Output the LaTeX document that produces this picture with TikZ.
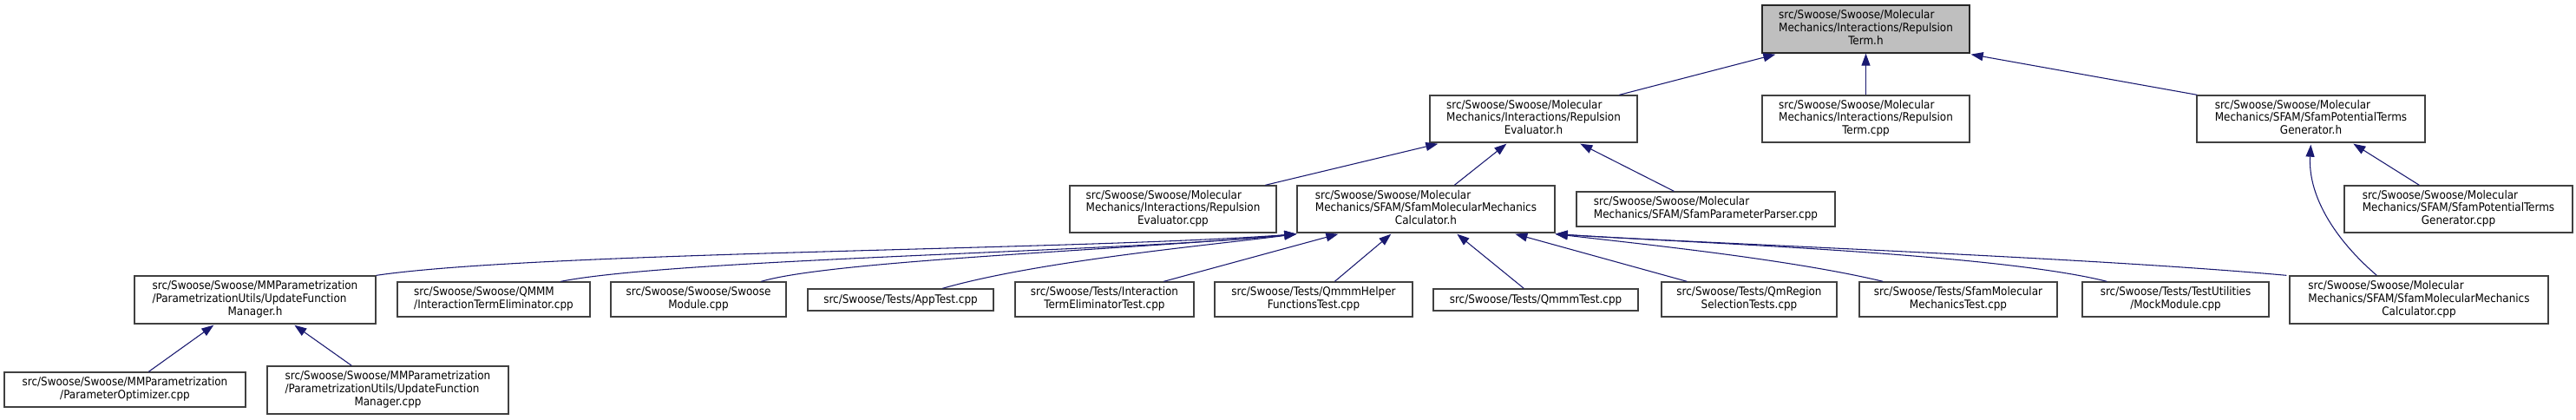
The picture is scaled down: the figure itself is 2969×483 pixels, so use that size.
\documentclass[tikz,border=0pt]{standalone}
\usepackage{fontspec}
\setmainfont{DejaVu Sans Condensed}
\usetikzlibrary{arrows.meta,calc}
\definecolor{navy}{HTML}{191970}
\definecolor{bord}{HTML}{404040}
\definecolor{topfill}{HTML}{BFBFBF}
\newcommand\TwoL[2]{\begin{tabular}{@{}l@{}}#1\\\multicolumn{1}{@{}c@{}}{#2}\end{tabular}}
\newcommand\ThreeL[3]{\begin{tabular}{@{}l@{}}#1\\#2\\\multicolumn{1}{@{}c@{}}{#3}\end{tabular}}
\newcommand\nd[7]{\node[#1,minimum width={(#5-#3)*0.75pt},minimum height={(#6-#4)*0.75pt}] (#2) at ({(#3+#5)/2},{(#4+#6)/2}) {#7};}
\tikzset{
  box/.style={draw=bord, line width=1pt, fill=white, inner sep=0pt, font=\fontsize{10}{11}\selectfont},
  topbox/.style={box, fill=topfill, draw=black!85},
  edge/.style={draw=navy, line width=0.8pt, -{Triangle[length=10.5pt,width=7.5pt]}},
}
\begin{document}
\begin{tikzpicture}[x=0.75pt,y=-0.75pt]
\fill[white] (0,0) rectangle (2969,483);
\useasboundingbox (0,0) rectangle (2969,483);
% row 0
\nd{topbox}{termh}{2031}{6}{2270}{61}{\ThreeL{src/Swoose/Swoose/Molecular}{Mechanics/Interactions/Repulsion}{Term.h}}
% row 1
\nd{box}{evalh}{1648}{110}{1887}{164}{\ThreeL{src/Swoose/Swoose/Molecular}{Mechanics/Interactions/Repulsion}{Evaluator.h}}
\nd{box}{termcpp}{2031}{110}{2270}{164}{\ThreeL{src/Swoose/Swoose/Molecular}{Mechanics/Interactions/Repulsion}{Term.cpp}}
\nd{box}{potgenh}{2532}{110}{2795}{164}{\ThreeL{src/Swoose/Swoose/Molecular}{Mechanics/SFAM/SfamPotentialTerms}{Generator.h}}
% row 2
\nd{box}{evalcpp}{1233}{214}{1471}{268}{\ThreeL{src/Swoose/Swoose/Molecular}{Mechanics/Interactions/Repulsion}{Evaluator.cpp}}
\nd{box}{calch}{1495}{214}{1792}{268}{\ThreeL{src/Swoose/Swoose/Molecular}{Mechanics/SFAM/SfamMolecularMechanics}{Calculator.h}}
\nd{box}{parser}{1817}{221}{2115}{261}{\TwoL{src/Swoose/Swoose/Molecular}{Mechanics/SFAM/SfamParameterParser.cpp}}
\nd{box}{potgencpp}{2702}{214}{2965}{268}{\ThreeL{src/Swoose/Swoose/Molecular}{Mechanics/SFAM/SfamPotentialTerms}{Generator.cpp}}
% row 3
\nd{box}{ufmh}{155}{318}{433}{373}{\ThreeL{src/Swoose/Swoose/MMParametrization}{/ParametrizationUtils/UpdateFunction}{Manager.h}}
\nd{box}{itecpp}{458}{325}{680}{365}{\TwoL{src/Swoose/Swoose/QMMM}{/InteractionTermEliminator.cpp}}
\nd{box}{swmod}{704}{325}{906}{365}{\TwoL{src/Swoose/Swoose/Swoose}{Module.cpp}}
\nd{box}{apptest}{931}{333}{1145}{358}{src/Swoose/Tests/AppTest.cpp}
\nd{box}{itetest}{1170}{325}{1376}{365}{\TwoL{src/Swoose/Tests/Interaction}{TermEliminatorTest.cpp}}
\nd{box}{qhelper}{1400}{325}{1628}{365}{\TwoL{src/Swoose/Tests/QmmmHelper}{FunctionsTest.cpp}}
\nd{box}{qmmmtest}{1652}{333}{1888}{358}{src/Swoose/Tests/QmmmTest.cpp}
\nd{box}{qmregion}{1915}{325}{2117}{365}{\TwoL{src/Swoose/Tests/QmRegion}{SelectionTests.cpp}}
\nd{box}{sfammoltest}{2143}{325}{2371}{365}{\TwoL{src/Swoose/Tests/SfamMolecular}{MechanicsTest.cpp}}
\nd{box}{mock}{2400}{325}{2615}{365}{\TwoL{src/Swoose/Tests/TestUtilities}{/MockModule.cpp}}
\nd{box}{calccpp}{2639}{318}{2937}{373}{\ThreeL{src/Swoose/Swoose/Molecular}{Mechanics/SFAM/SfamMolecularMechanics}{Calculator.cpp}}
% row 4
\nd{box}{paramopt}{5}{429}{283}{469}{\TwoL{src/Swoose/Swoose/MMParametrization}{/ParameterOptimizer.cpp}}
\nd{box}{ufmcpp}{308}{422}{586}{477}{\ThreeL{src/Swoose/Swoose/MMParametrization}{/ParametrizationUtils/UpdateFunction}{Manager.cpp}}
% edges
\draw[edge] ($(evalh.north west)+(219,0)$) -- ($(termh.south west)+(16,1)$);
\draw[edge] (termcpp.north) -- (termh.south);
\draw[edge] ($(potgenh.north west)+(1,0)$) -- ($(termh.south east)+(1,1)$);
\draw[edge] ($(evalcpp.north west)+(226,0)$) -- ($(evalh.south west)+(10,1)$);
\draw[edge] ($(calch.north west)+(182,0)$) -- ($(evalh.south west)+(89,1)$);
\draw[edge] ($(parser.north west)+(113,0)$) -- ($(evalh.south west)+(174,1)$);
\draw[edge] ($(potgencpp.north west)+(87,0)$) -- ($(potgenh.south west)+(181,1)$);
\draw[edge] ($(calccpp.north west)+(101,0)$) .. controls (2690,275) and (2660,225) .. ($(potgenh.south west)+(132,2)$);
\draw[edge] ($(paramopt.north west)+(167,0)$) -- ($(ufmh.south west)+(92,1)$);
\draw[edge] ($(ufmcpp.north west)+(98,0)$) -- ($(ufmh.south west)+(185,1)$);
\draw[edge] (ufmh.north east) .. controls (620,290) and (1250,288) .. ($(calch.south west)+(0,1)$);
\draw[edge] ($(itecpp.north west)+(189,0)$) .. controls (780,298) and (1300,290) .. ($(calch.south west)+(0,1)$);
\draw[edge] ($(swmod.north west)+(174,0)$) .. controls (960,300) and (1300,288) .. ($(calch.south west)+(0,1)$);
\draw[edge] ($(apptest.north west)+(156,0)$) .. controls (1200,300) and (1400,282) .. ($(calch.south west)+(0,1)$);
\draw[edge] ($(itetest.north west)+(172,0)$) -- ($(calch.south west)+(48,1)$);
\draw[edge] ($(qhelper.north west)+(139,0)$) -- ($(calch.south west)+(109,1)$);
\draw[edge] ($(qmmmtest.north west)+(105,0)$) -- ($(calch.south west)+(185,1)$);
\draw[edge] ($(qmregion.north west)+(30,0)$) -- ($(calch.south west)+(252,1)$);
\draw[edge] ($(sfammoltest.north west)+(28,0)$) .. controls (2060,298) and (1880,280) .. ($(calch.south east)+(0,1)$);
\draw[edge] ($(mock.north west)+(29,0)$) .. controls (2300,292) and (1950,280) .. ($(calch.south east)+(0,1)$);
\draw[edge] ($(calccpp.north west)+(-3,0)$) .. controls (2400,296) and (1950,280) .. ($(calch.south east)+(0,1)$);
\end{tikzpicture}
\end{document}
